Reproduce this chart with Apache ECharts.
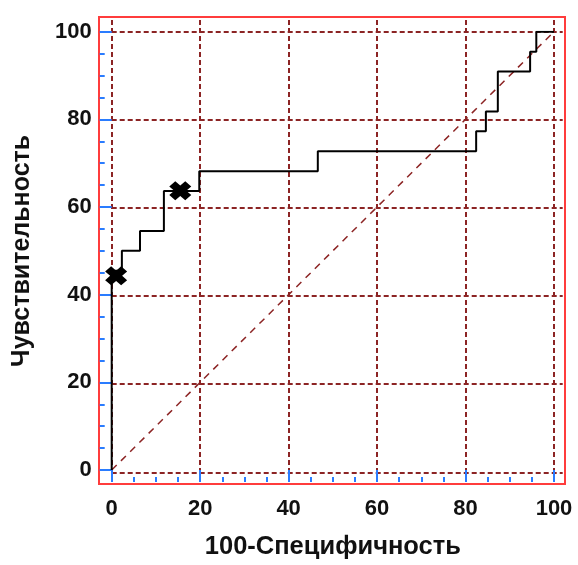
<!DOCTYPE html>
<html><head><meta charset="utf-8">
<script src="https://cdn.jsdelivr.net/npm/echarts@6/dist/echarts.min.js"></script>
<style>html,body{margin:0;padding:0;background:#fff}#c{width:578px;height:565px}</style>
</head><body><div id="c"></div>
<script>
// ROC curve corner points (100-specificity, sensitivity)
const fpr = [0, 0, 2.3, 6.4, 11.8, 19.8, 46.6, 82.4, 84.6, 87.3, 94.6, 96.0, 100];
const tpr = [0, 45.45, 50.0, 54.55, 63.64, 68.18, 72.73, 77.27, 81.82, 90.91, 95.45, 100, 100];
// highlighted cut-off points
const cutX = [1.0, 15.5];
const cutY = [44.3, 63.7];
// reference diagonal
const diagX = [0, 100];
const diagY = [0, 100];
// tick labels
const xTicks = [0, 20, 40, 60, 80, 100];
const yTicks = [0, 20, 40, 60, 80, 100];
const xTitle = '100-Специфичность';
const yTitle = 'Чувствительность';

const FONT = 'Liberation Sans, Arial, sans-serif';
const BLUE = '#2a7cff';
const BROWN = '#8c2424';
const gridLine = {show: true, showMinLine: true, showMaxLine: false,
  lineStyle: {color: BROWN, width: 2, type: [5, 3]}};

const chart = echarts.init(document.getElementById('c'), null, {renderer: 'canvas'});
chart.setOption({
  animation: false,
  backgroundColor: '#fff',
  grid: [
    {left: 99, top: 17, width: 466, height: 467, show: true, borderColor: '#ff3c3c', borderWidth: 2, backgroundColor: 'transparent'},
    {left: 111.7, top: 31.7, width: 442.3, height: 440.6},
    {left: 111.7, top: 20, width: 451, height: 452.3}
  ],
  xAxis: [
    {type: 'value', gridIndex: 0, show: false, min: 0, max: 1},
    {type: 'value', gridIndex: 1, min: xTicks[0], max: xTicks[xTicks.length - 1], interval: 20, offset: 12,
      axisLine: {show: false, onZero: false},
      axisTick: {show: true, inside: true, length: 12, lineStyle: {color: BLUE, width: 2}},
      minorTick: {show: true, splitNumber: 4, length: 5, lineStyle: {color: BLUE, width: 2}},
      splitLine: {show: false},
      axisLabel: {show: true, margin: 16, color: '#111', fontFamily: FONT, fontWeight: 'bold', fontSize: 22,
        formatter: v => xTicks.includes(v) ? String(v) : ''},
      name: xTitle, nameLocation: 'middle', nameGap: 52,
      nameTextStyle: {color: '#111', fontFamily: FONT, fontWeight: 'bold', fontSize: 25.5}},
    {type: 'value', gridIndex: 2, min: 0, max: 100 * 451 / 442.3, interval: 20,
      axisLine: {show: false, onZero: false}, axisTick: {show: false}, axisLabel: {show: false}, splitLine: gridLine}
  ],
  yAxis: [
    {type: 'value', gridIndex: 0, show: false, min: 0, max: 1},
    {type: 'value', gridIndex: 1, min: yTicks[0], max: yTicks[yTicks.length - 1], interval: 20, offset: 12,
      axisLine: {show: false, onZero: false},
      axisTick: {show: true, inside: true, length: 12, lineStyle: {color: BLUE, width: 2}},
      minorTick: {show: true, splitNumber: 4, length: 5, lineStyle: {color: BLUE, width: 2}},
      splitLine: {show: false},
      axisLabel: {show: true, margin: 8, color: '#111', fontFamily: FONT, fontWeight: 'bold', fontSize: 22,
        formatter: v => yTicks.includes(v) ? String(v) : ''},
      name: yTitle, nameLocation: 'middle', nameGap: 65,
      nameTextStyle: {color: '#111', fontFamily: FONT, fontWeight: 'bold', fontSize: 25}},
    {type: 'value', gridIndex: 2, min: 0, max: 100 * 452.3 / 440.6, interval: 20,
      axisLine: {show: false, onZero: false}, axisTick: {show: false}, axisLabel: {show: false}, splitLine: gridLine}
  ],
  series: [
    {type: 'line', xAxisIndex: 1, yAxisIndex: 1, data: diagX.map((x, i) => [x, diagY[i]]),
      symbol: 'none', lineStyle: {color: BROWN, width: 1.5, type: [7, 6]}, z: 2},
    {type: 'line', xAxisIndex: 1, yAxisIndex: 1, step: 'end', data: fpr.map((x, i) => [x, tpr[i]]),
      symbol: 'none', lineStyle: {color: '#000', width: 2}, z: 3},
    {type: 'scatter', xAxisIndex: 1, yAxisIndex: 1, data: cutX.map((x, i) => [x, cutY[i]]),
      symbol: 'path://M0,6 L6,0 L11,5 L16,0 L22,6 L17,11 L22,16 L16,22 L11,17 L6,22 L0,16 L5,11 Z',
      symbolSize: [22, 19], itemStyle: {color: '#000', opacity: 1}, z: 4}
  ]
});
</script></body></html>
